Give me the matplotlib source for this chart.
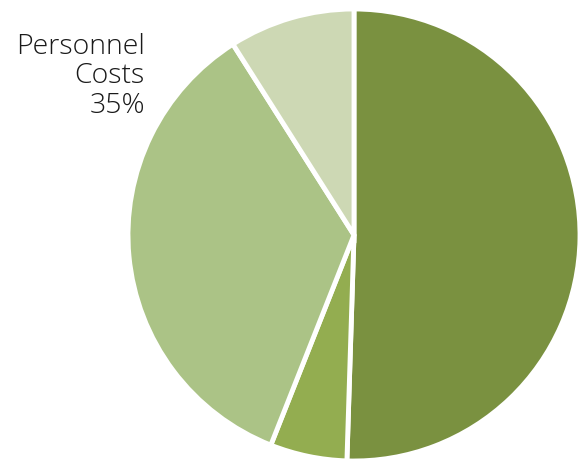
import matplotlib
matplotlib.use("Agg")
from matplotlib import pyplot as plt

# slice data, clockwise from 12 o'clock
categories = ["Program Costs", "Other Costs", "Personnel Costs", "Operating Costs"]
shares = [50.5, 5.5, 35, 9]
colors = ["#7a9140", "#93ad50", "#abc386", "#cdd8b4"]
shown_label = "Personnel Costs"

plt.rcParams["font.family"] = ["Open Sans", "DejaVu Sans"]

W, H = 578, 459
fig = plt.figure(figsize=(W / 100, H / 100), dpi=100)
ax = fig.add_axes([0, 0, 1, 1])

ax.pie(
    shares,
    colors=colors,
    startangle=90,
    counterclock=False,
    center=(354, H - 235),
    radius=226,
    wedgeprops=dict(edgecolor="white", linewidth=3.5),
)
ax.set_xlim(0, W)
ax.set_ylim(0, H)
ax.set_aspect("equal")
ax.axis("off")

i = categories.index(shown_label)
name = shown_label.replace(" ", "\n")
ax.text(145, H - 113, f"{name}\n{shares[i]:.0f}%",
        ha="right", va="baseline", multialignment="right",
        fontsize=20.5, fontweight="light", linespacing=1.08, color="#1a1a1a")

fig.savefig("out.png", dpi=100, facecolor="white")
